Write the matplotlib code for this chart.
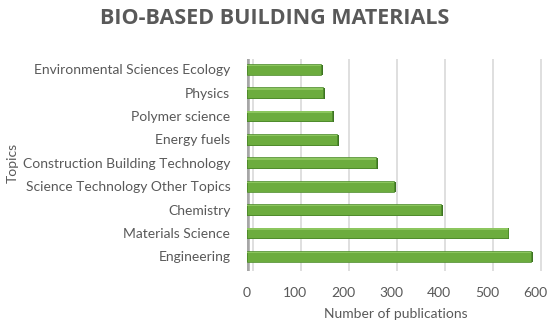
import matplotlib
matplotlib.use("Agg")
import matplotlib.pyplot as plt
import numpy as np

categories = ["Engineering", "Materials Science", "Chemistry",
              "Science Technology Other Topics", "Construction Building Technology",
              "Energy fuels", "Polymer science", "Physics",
              "Environmental Sciences Ecology"]
values = [590, 542, 404, 305, 268, 188, 177, 159, 154]
xticks = [0, 100, 200, 300, 400, 500, 600]

plt.rcParams['font.family'] = ['Lato', 'DejaVu Sans']
txt = '#595959'

fig = plt.figure(figsize=(5.5, 3.25), dpi=100)
ax = fig.add_axes([0.449, 0.165, 0.542, 0.655])

y = np.arange(len(categories))
h = 0.46
vals = np.array(values)
# grid
for t in xticks:
    ax.axvline(t + 12, color='#d9d9d9', lw=1.2, zorder=0)
# 3D depth (right end face / bottom edge)
ax.barh(y - 0.03, vals + 4, left=0, height=h, color='#3d7322', zorder=2)
ax.barh(y, vals, height=h, color='#6cac3e', edgecolor='#4f8c2d', lw=0.5, zorder=3)
ax.barh(y + h * 0.36, vals, height=h * 0.14, color='#8cc65e', lw=0, zorder=4)

# left wall
ax.axvline(0, color='#a6a6a6', lw=4, zorder=1)

ax.set_xlim(0, 620)
ax.set_ylim(-0.64, 8.46)
ax.set_xticks(xticks)
ax.set_yticks(y)
ax.set_yticklabels(categories)
ax.tick_params(axis='both', length=0, labelsize=10, labelcolor=txt)
ax.tick_params(axis='y', pad=12)
ax.tick_params(axis='x', pad=11)
for s in ax.spines.values():
    s.set_visible(False)

ax.set_xlabel("Number of publications", fontsize=10, color=txt, labelpad=7)
fig.text(0.012, 0.5, "Topics", rotation=90, fontsize=10, color=txt, va='center', ha='left')
fig.text(0.5, 0.943, "BIO-BASED BUILDING MATERIALS", fontsize=15.5, fontweight='bold',
         family=['Open Sans', 'DejaVu Sans'], color=txt, ha='center', va='center')

fig.savefig("out.png", dpi=100)
